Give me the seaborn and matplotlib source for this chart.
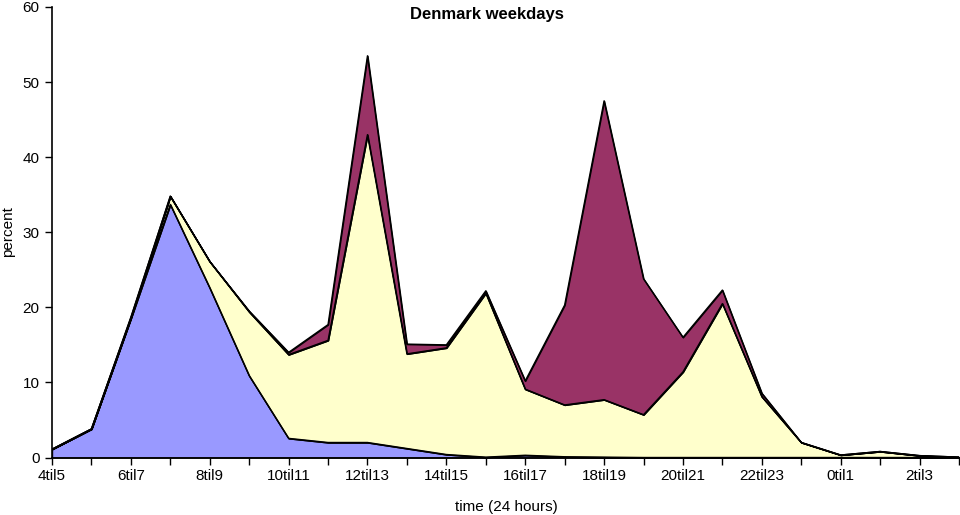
import numpy as np
import pandas as pd
import seaborn as sns
import matplotlib
matplotlib.use("Agg")
import matplotlib.pyplot as plt

categories = ["4til5", "5til6", "6til7", "7til8", "8til9", "9til10", "10til11", "11til12",
              "12til13", "13til14", "14til15", "15til16", "16til17", "17til18", "18til19",
              "19til20", "20til21", "21til22", "22til23", "23til24", "0til1", "1til2",
              "2til3", "3til4"]
breakfast = [1.1, 3.8, 18.5, 33.7, 22.6, 10.9, 2.55, 2.0, 2.0, 1.2, 0.4, 0.05,
             0.3, 0.1, 0.05, 0, 0, 0, 0, 0, 0, 0, 0, 0]
lunch = [0, 0, 0.1, 1.1, 3.5, 8.5, 11.15, 13.6, 41.0, 12.6, 14.2, 21.85,
         8.8, 6.9, 7.65, 5.7, 11.4, 20.5, 8.1, 2.0, 0.33, 0.8, 0.25, 0.05]
dinner = [0, 0, 0.1, 0, 0, 0.1, 0.3, 2.1, 10.5, 1.3, 0.4, 0.3,
          1.1, 13.3, 39.8, 18.1, 4.6, 1.8, 0.45, 0, 0, 0, 0, 0]
series_names = ["breakfast", "lunch", "dinner"]
colors = ["#9999FF", "#FFFFCC", "#993366"]

df = pd.DataFrame({"time": categories, "breakfast": breakfast,
                   "lunch": lunch, "dinner": dinner})
df["pos"] = np.arange(len(df))

sns.set_style("white")
plt.rcParams["font.family"] = ["Liberation Sans", "DejaVu Sans"]

fig = plt.figure(figsize=(9.6, 5.15), dpi=100)
ax = fig.add_axes([52 / 960, 1 - 457.5 / 515, (959 - 52) / 960, (457.5 - 7) / 515])

ax.stackplot(df["pos"], df["breakfast"], df["lunch"], df["dinner"],
             colors=colors, edgecolor="black", linewidth=1.0)

# outline of stacked tops via seaborn
cum = df[series_names].cumsum(axis=1)
for name in series_names:
    sns.lineplot(x=df["pos"], y=cum[name], ax=ax, color="black", linewidth=1.0)

ax.set_xlim(0, len(categories) - 1)
ax.set_ylim(0, 60)
ax.set_yticks(np.arange(0, 61, 10))
ax.set_xticks(df["pos"])
ax.set_xticklabels([c if i % 2 == 0 else "" for i, c in enumerate(categories)])
ax.tick_params(axis="both", direction="out", length=5, width=1, color="black",
               labelsize=11, labelcolor="black", bottom=True, left=True)
ax.tick_params(axis="y", pad=4)
ax.tick_params(axis="x", pad=3)

for s in ["top", "right"]:
    ax.spines[s].set_visible(False)
for s in ["left", "bottom"]:
    ax.spines[s].set_color("black")
    ax.spines[s].set_linewidth(1.2)

ax.set_xlabel("")
ax.set_ylabel("")
fig.text(8 / 960, 1 - 232 / 515, "percent", rotation=90, ha="center", va="center",
         fontsize=11, color="black")
fig.text(506 / 960, 1 - 507 / 515, "time (24 hours)", ha="center", va="center",
         fontsize=11, color="black")
fig.text(487 / 960, 1 - 15 / 515, "Denmark weekdays", ha="center", va="center",
         fontsize=12, fontweight="bold", color="black")

fig.savefig("out.png", dpi=100, facecolor="white")
